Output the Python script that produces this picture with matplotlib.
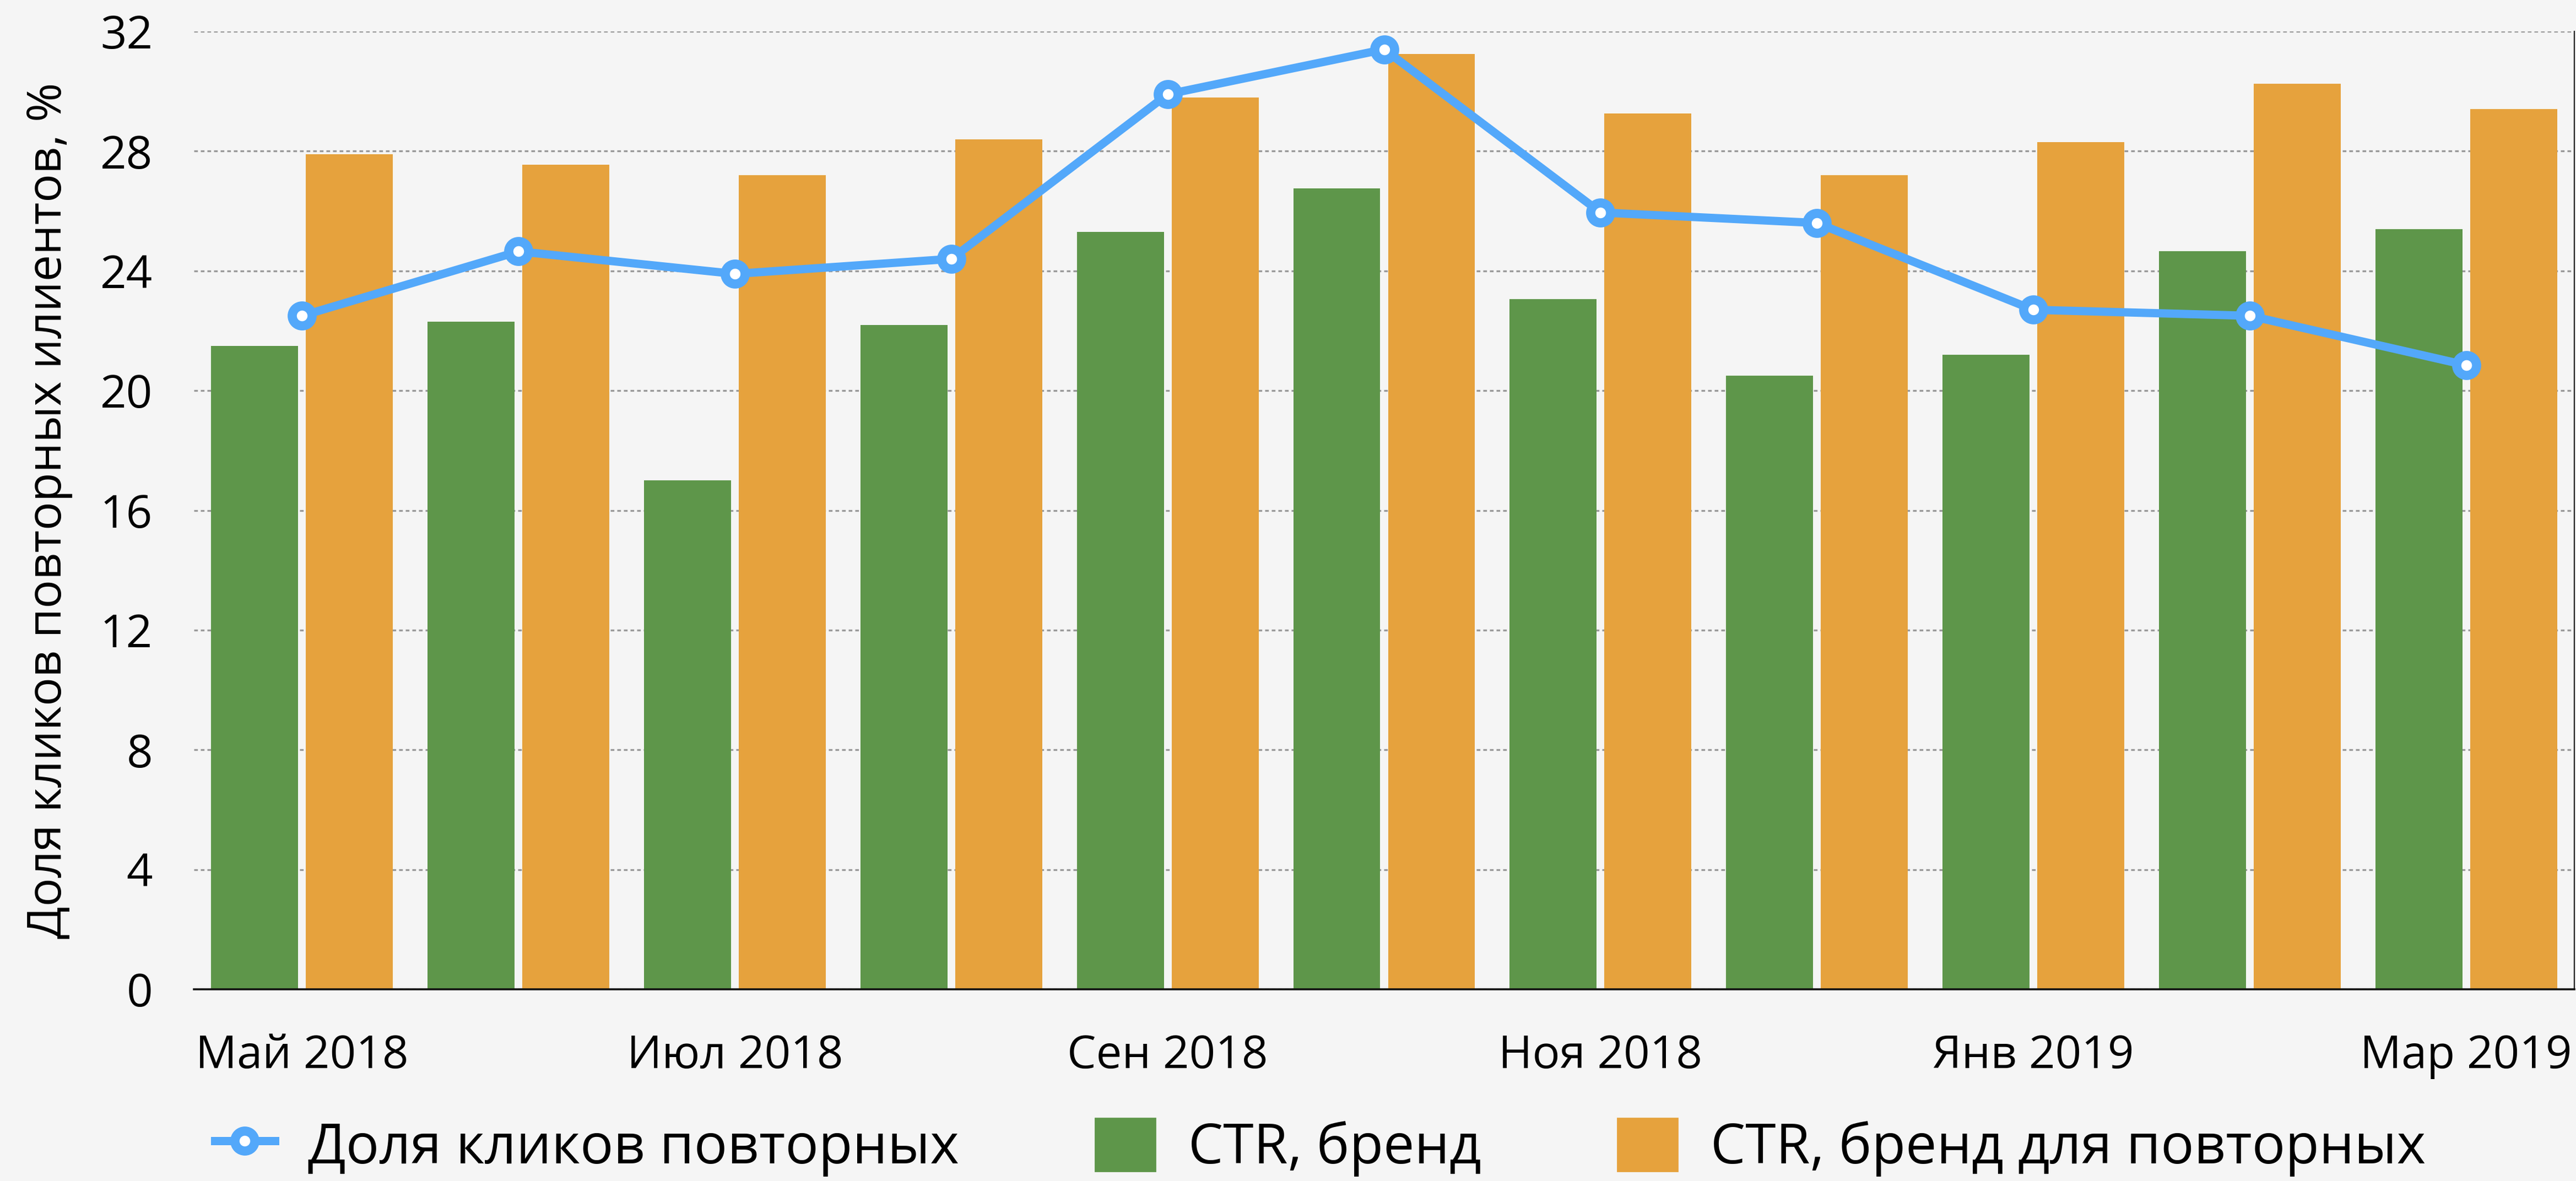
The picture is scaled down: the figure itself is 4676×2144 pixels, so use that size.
import numpy as np
import matplotlib
matplotlib.use('Agg')
import matplotlib.pyplot as plt
from matplotlib.lines import Line2D
from matplotlib.patches import Patch

plt.rcParams['font.family'] = ['Open Sans', 'DejaVu Sans']

# данные
months = ['Май 2018', 'Июн 2018', 'Июл 2018', 'Авг 2018', 'Сен 2018', 'Окт 2018',
          'Ноя 2018', 'Дек 2018', 'Янв 2019', 'Фев 2019', 'Мар 2019']
share_repeat = [22.5, 24.65, 23.9, 24.4, 29.9, 31.4, 25.95, 25.6, 22.7, 22.5, 20.85]
ctr_brand = [21.5, 22.3, 17.0, 22.2, 25.3, 26.75, 23.05, 20.5, 21.2, 24.65, 25.4]
ctr_brand_repeat = [27.9, 27.55, 27.2, 28.4, 29.8, 31.25, 29.25, 27.2, 28.3, 30.25, 29.4]
y_ticks = [0, 4, 8, 12, 16, 20, 24, 28, 32]

bg = '#F5F5F5'
green = '#5E964A'
orange = '#E6A23D'
blue = '#53A8FA'

fig = plt.figure(figsize=(23.38, 10.72), dpi=200, facecolor=bg)
ax = fig.add_axes([352 / 4676, 1 - 1796 / 2144, (4673 - 352) / 4676, (1796 - 57) / 2144])
ax.set_facecolor(bg)

x = np.arange(len(months))
w = 0.402
off = 0.219
ax.bar(x - off, ctr_brand, width=w, color=green, zorder=2)
ax.bar(x + off, ctr_brand_repeat, width=w, color=orange, zorder=2)
ax.plot(x, share_repeat, color=blue, lw=5.4, marker='o', ms=13, mew=6,
        mfc='white', mec=blue, zorder=3)

ax.set_xlim(-0.5, 10.5)
ax.set_ylim(0, 32)
ax.set_yticks(y_ticks)
ax.set_xticks(x[::2])
ax.set_xticklabels(months[::2])
ax.tick_params(axis='both', length=0, labelsize=30)
ax.tick_params(axis='y', pad=27)
ax.tick_params(axis='x', pad=29)
ax.grid(axis='y', color='#999999', lw=1.2, linestyle=(0, (2, 1.6)), zorder=1)
ax.set_axisbelow(True)

for s in ['top', 'left']:
    ax.spines[s].set_visible(False)
ax.spines['bottom'].set_color('#111111')
ax.spines['bottom'].set_linewidth(1.3)
ax.spines['bottom'].set_zorder(4)
ax.spines['right'].set_color('#111111')
ax.spines['right'].set_linewidth(0.8)

ax.set_ylabel('Доля кликов повторных илиентов, %', fontsize=31, labelpad=18)

handles = [
    Line2D([], [], color=blue, lw=5.4, marker='o', ms=13, mew=6, mfc='white', mec=blue),
    Patch(color=green),
    Patch(color=orange),
]
labels = ['Доля кликов повторных', 'CTR, бренд', 'CTR, бренд для повторных']
fig.legend(handles, labels, loc='center left', bbox_to_anchor=(390 / 4676, 0.0285),
           ncol=3, frameon=False, fontsize=36.2, borderpad=0, borderaxespad=0,
           handlelength=1.08, handleheight=1.1, handletextpad=0.6, columnspacing=2.46)

fig.savefig('out.png', dpi=200, facecolor=bg)
